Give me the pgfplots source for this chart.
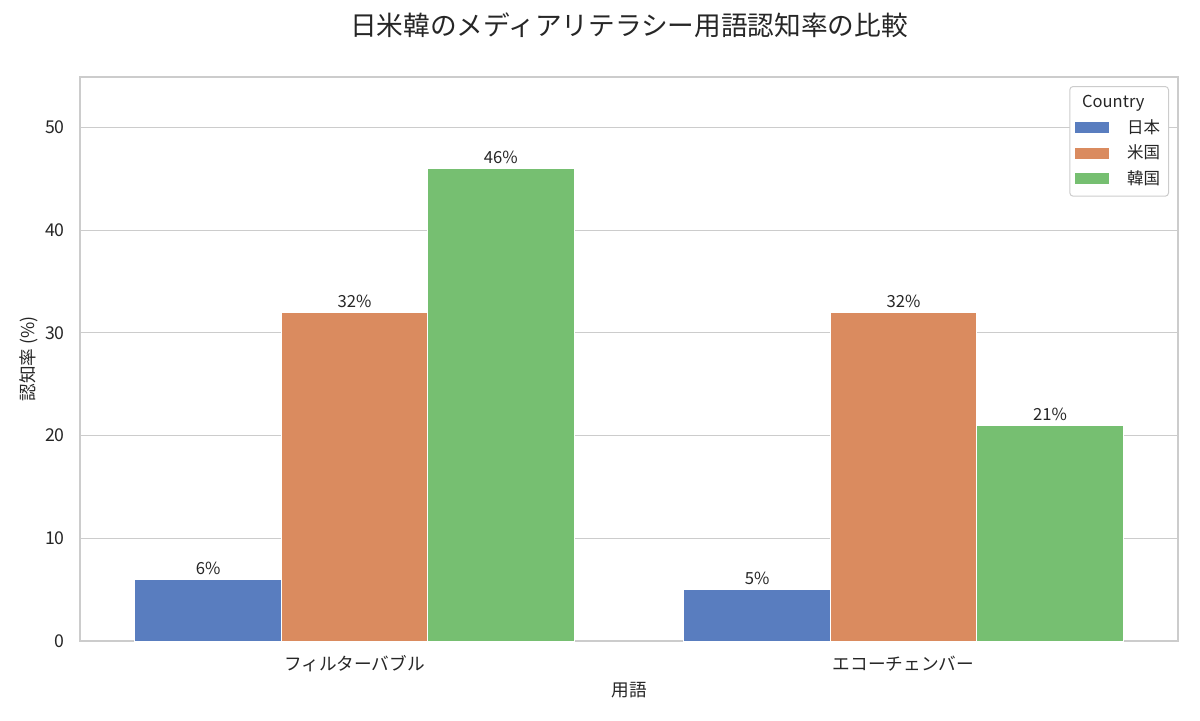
\documentclass[border=0pt]{standalone}
\usepackage{fontspec}
\setmainfont{Noto Sans CJK JP}
\usepackage{pgfplots}
\pgfplotsset{compat=1.18}
\usetikzlibrary{calc}
\definecolor{cjp}{HTML}{597DBF}
\definecolor{cus}{HTML}{DA8B5F}
\definecolor{ckr}{HTML}{76BF71}
\definecolor{gridc}{HTML}{CCCCCC}
\definecolor{spinec}{HTML}{CCCCCC}
\definecolor{txt}{HTML}{262626}
\newcommand{\tickfont}{\fontsize{10.6}{12.5}\selectfont}
\begin{document}
\begin{tikzpicture}
\begin{axis}[
  width=658.8pt, height=338.4pt, scale only axis,
  xmin=-0.5, xmax=1.5, ymin=0, ymax=54.9,
  ybar, bar width=0.2667,
  xtick={0,1}, xticklabels={フィルターバブル,エコーチェンバー},
  ytick={0,10,20,30,40,50},
  major tick length=0pt, tick style={draw=none},
  /pgf/number format/assume math mode=true,
  ymajorgrids, grid style={color=gridc, line width=0.6pt},
  axis line style={color=spinec, line width=0.9pt},
  ticklabel style={font=\tickfont, text=txt},
  xticklabel style={anchor=center, yshift=-13.8pt},
  yticklabel style={anchor=east, inner sep=0pt, xshift=-9pt},
  title={日米韓のメディアリテラシー用語認知率の比較},
  title style={at={(axis description cs:0.5,1.0745)}, anchor=center, font=\fontsize{16}{19}\selectfont, text=txt},
  xlabel={用語},
  xlabel style={at={(axis description cs:0.5,-0.0869)}, anchor=center, font=\tickfont, text=txt},
  ylabel={認知率 (\%)},
  ylabel style={at={(axis description cs:-0.0465,0.5)}, anchor=center, rotate=0, font=\tickfont, text=txt},
  nodes near coords={\pgfmathprintnumber{\pgfplotspointmeta}\%},
  every node near coord/.append style={font=\fontsize{10}{12}\selectfont, text=txt, inner sep=2.5pt},
  legend style={at={(rel axis cs:1,1)}, anchor=north east, xshift=-5.4pt, yshift=-5.4pt,
    draw=gridc, line width=0.6pt, rounded corners=2pt, font=\fontsize{9.9}{12}\selectfont, text=txt,
    inner xsep=3pt, inner ysep=3.5pt, row sep=1.5pt, cells={anchor=west},
    /tikz/every odd column/.append style={column sep=9pt}},
  legend image code/.code={\fill[#1, draw=none, sharp corners] (0pt,-3.3pt) rectangle (20.4pt,3.3pt);},
]
\addlegendimage{empty legend}
\addlegendentry{\hspace{-27pt}Country}
\addplot[fill=cjp, draw=white, line width=0.6pt, bar shift=-0.2667] coordinates {(0,6) (1,5)};
\addlegendentry{日本}
\addplot[fill=cus, draw=white, line width=0.6pt, bar shift=0] coordinates {(0,32) (1,32)};
\addlegendentry{米国}
\addplot[fill=ckr, draw=white, line width=0.6pt, bar shift=0.2667] coordinates {(0,46) (1,21)};
\addlegendentry{韓国}
\coordinate (bl) at (rel axis cs:0,0);
\coordinate (tr) at (rel axis cs:1,1);
\end{axis}
\pgfresetboundingbox
\path[use as bounding box] ($(bl)+(-48pt,-47.4pt)$) rectangle ($(tr)+(13.2pt,46.2pt)$);
\end{tikzpicture}
\end{document}
